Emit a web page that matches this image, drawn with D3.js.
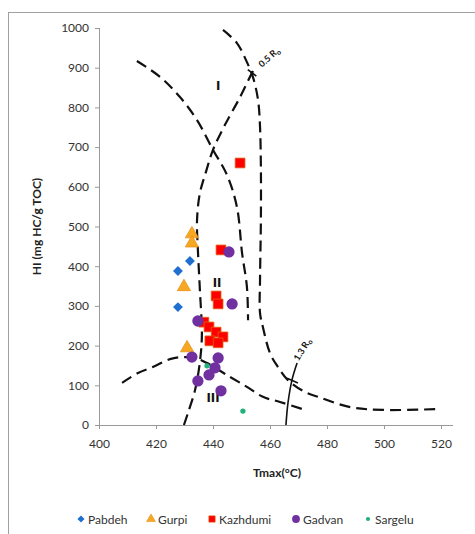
<!DOCTYPE html>
<html>
<head>
<meta charset="utf-8">
<script src="https://cdn.jsdelivr.net/npm/d3@7"></script>
<style>
  body { margin: 0; background: #fff; }
  svg text { font-family: Lato, "Open Sans", sans-serif; }
</style>
</head>
<body>
<div id="chart"></div>
<script>
// Points des formations (Tmax °C, HI)
const pabdeh = [[431.9, 413], [427.7, 388], [427.7, 297]];
const gurpi = [[432.6, 481], [432.6, 458], [429.8, 348], [430.9, 194]];
const kazhdumi = [[449.5, 660], [442.8, 441], [441.1, 325], [441.8, 305], [436.8, 259],
  [438.6, 247], [441.1, 234], [443.5, 222], [438.9, 212], [441.8, 207]];
const gadvan = [[445.6, 436], [446.7, 305], [434.7, 262], [432.6, 171], [441.8, 169],
  [440.7, 144], [438.6, 126], [434.7, 111], [442.8, 86]];
const sargelu = [[437.9, 149], [450.5, 35]];

// Courbes de type de kérogène
const curveTypeI = [[443.5, 995], [448.4, 962], [451.9, 914], [454.0, 877], [455.8, 819],
  [456.5, 751], [456.8, 650], [456.8, 516], [456.5, 365], [456.5, 282], [457.5, 247],
  [460.0, 181], [462.8, 146], [466.3, 113], [472.3, 83], [476.8, 71], [488.1, 45],
  [499.6, 38], [518.6, 40]];
const curveTypeII = [[413.3, 917], [421.4, 877], [428.4, 826], [434.4, 768], [440.0, 693],
  [444.9, 630], [448.4, 549], [450.2, 433], [451.9, 348], [452.3, 264]];
const curveTypeIII = [[408.1, 106], [413.7, 131], [418.9, 146], [424.9, 166], [429.5, 171],
  [433.7, 169], [437.9, 156], [446.0, 121], [451.9, 96], [457.5, 71], [463.5, 58], [472.3, 38]];
const ro05 = [[429.8, 0], [431.2, 30], [433.7, 88], [435.4, 159], [436.1, 227], [435.4, 340],
  [434.7, 441], [434.4, 516], [435.4, 584], [437.5, 637], [440.0, 693], [444.2, 756],
  [449.5, 826], [453.7, 887], [455.1, 904]];
const ro13 = [[465.6, 0], [466.3, 55], [467.7, 113], [469.5, 156]];
const typeLabels = [["I", 441.8, 856], ["II", 441.4, 360], ["III", 440.0, 70]];

const xTicks = [400, 420, 440, 460, 480, 500, 520];
const yTicks = [0, 100, 200, 300, 400, 500, 600, 700, 800, 900, 1000];

const W = 475, H = 534;
const svg = d3.select("#chart").append("svg").attr("width", W).attr("height", H);

// Cadre
svg.append("rect").attr("x", 8.5).attr("y", 12.5).attr("width", 480).attr("height", 540)
  .attr("fill", "none").attr("stroke", "#a0a0a0");

const x = d3.scaleLinear().domain([400, 520]).range([99, 441]);
const y = d3.scaleLinear().domain([0, 1000]).range([425, 28]);

// Axes
const gx = svg.append("g").attr("transform", `translate(0,${y(0)})`)
  .call(d3.axisBottom(x).tickValues(xTicks).tickSize(4).tickPadding(10).tickFormat(d3.format("d")));
const gy = svg.append("g").attr("transform", `translate(${x(400)},0)`)
  .call(d3.axisLeft(y).tickValues(yTicks).tickSize(4).tickPadding(6).tickFormat(d3.format("d")));
[gx, gy].forEach(g => {
  g.select(".domain").remove();
  g.selectAll(".tick line").attr("stroke", "#999");
  g.selectAll(".tick text").attr("fill", "#333").style("font-size", "12px");
});
svg.append("line").attr("x1", x(400)).attr("x2", 453).attr("y1", y(0) + 0.5).attr("y2", y(0) + 0.5)
  .attr("stroke", "#999");
svg.append("line").attr("x1", x(400) + 0.5).attr("x2", x(400) + 0.5).attr("y1", y(0)).attr("y2", y(1000))
  .attr("stroke", "#999");

svg.append("text").attr("x", 277).attr("y", 477).attr("text-anchor", "middle")
  .style("font-size", "12px").style("font-weight", "bold").attr("fill", "#222").text("Tmax(°C)");
svg.append("text").attr("transform", `translate(41,${y(500)}) rotate(-90)`).attr("text-anchor", "middle")
  .style("font-size", "12px").style("font-weight", "bold").attr("fill", "#222").text("HI (mg HC/g TOC)");

// Courbes
const line = d3.line().x(d => x(d[0])).y(d => y(d[1])).curve(d3.curveCatmullRom);
[curveTypeI, curveTypeII, curveTypeIII, ro05].forEach(c => {
  svg.append("path").datum(c).attr("d", line).attr("fill", "none")
    .attr("stroke", "#111").attr("stroke-width", 2.2).attr("stroke-dasharray", "11,6");
});
svg.append("path").datum(ro13).attr("d", line).attr("fill", "none")
  .attr("stroke", "#111").attr("stroke-width", 1.6);

// Petites croix sur les lignes Ro
svg.append("line").attr("x1", x(452.2)).attr("y1", y(895)).attr("x2", x(455.2)).attr("y2", y(879))
  .attr("stroke", "#111").attr("stroke-width", 1.6);
svg.append("line").attr("x1", x(466.0)).attr("y1", y(118)).attr("x2", x(469.8)).attr("y2", y(106))
  .attr("stroke", "#111").attr("stroke-width", 1.6);

// Étiquettes Ro
function roLabel(txt, px, py, angle) {
  const t = svg.append("text").attr("transform", `translate(${px},${py}) rotate(${angle})`)
    .style("font-size", "9px").style("font-weight", "bold").attr("fill", "#111");
  t.append("tspan").text(txt + " R");
  t.append("tspan").attr("dy", 2).style("font-size", "7px").text("o");
}
roLabel("0.5", x(457.2), y(900), -42);
roLabel("1.3", x(470), y(160), -58);

// Étiquettes de type
typeLabels.forEach(([t, tx, hy]) => {
  svg.append("text").attr("x", x(tx)).attr("y", y(hy) + 5).attr("text-anchor", "middle")
    .style("font-family", "'Liberation Sans Narrow', 'DejaVu Sans Condensed', sans-serif")
    .style("font-size", "13px").style("font-weight", "bold")
    .attr("fill", "#111").text(t);
});

// Séries
const series = [
  { name: "Pabdeh", data: pabdeh, type: d3.symbolDiamond2, size: 62, legend: 32, fill: "#1f6fd0", stroke: "none" },
  { name: "Gurpi", data: gurpi, type: d3.symbolTriangle, size: 75, legend: 34, fill: "#f7a823", stroke: "#e8901a" },
  { name: "Kazhdumi", data: kazhdumi, type: d3.symbolSquare, size: 95, legend: 40, fill: "#ff0000", stroke: "#e06010" },
  { name: "Gadvan", data: gadvan, type: d3.symbolCircle, size: 100, legend: 48, fill: "#7030a0", stroke: "none" },
  { name: "Sargelu", data: sargelu, type: d3.symbolCircle, size: 22, legend: 14, fill: "#20b27a", stroke: "none" }
];
series.forEach(s => {
  svg.append("g").selectAll("path").data(s.data).join("path")
    .attr("transform", d => `translate(${x(d[0])},${y(d[1])})`)
    .attr("d", d3.symbol().type(s.type).size(s.size))
    .attr("fill", s.fill).attr("stroke", s.stroke).attr("stroke-width", 0.8);
});

// Légende
const legendX = [81, 151, 212, 296, 368];
const legend = svg.append("g").attr("transform", "translate(0,519)");
series.forEach((s, i) => {
  legend.append("path").attr("transform", `translate(${legendX[i]},0)`)
    .attr("d", d3.symbol().type(s.type).size(s.legend))
    .attr("fill", s.fill).attr("stroke", s.stroke).attr("stroke-width", 0.6);
  legend.append("text").attr("x", legendX[i] + 7).attr("y", 4.5)
    .style("font-size", "12px").attr("fill", "#333").text(s.name);
});
</script>
</body>
</html>
